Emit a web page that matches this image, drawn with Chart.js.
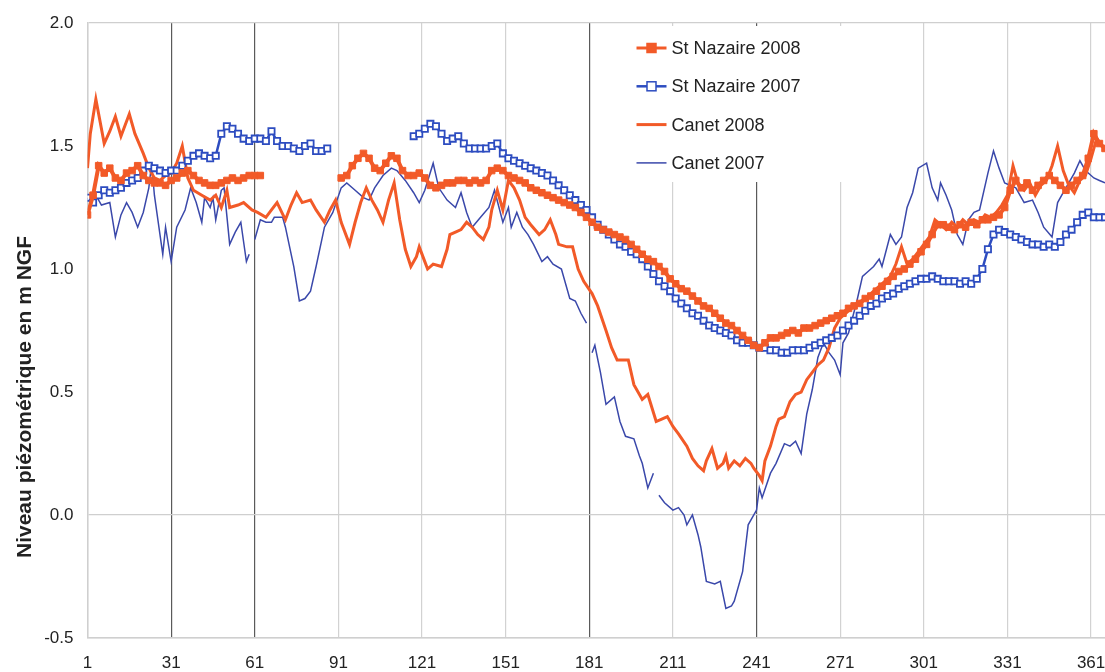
<!DOCTYPE html>
<html>
<head>
<meta charset="utf-8">
<title>Niveau piézométrique</title>
<script src="https://cdn.jsdelivr.net/npm/chart.js@4/dist/chart.umd.min.js"></script>
<style>
  html, body { margin: 0; padding: 0; background: #fff; overflow: hidden; }
  #wrap { width: 1105px; height: 672px; position: relative; }
  canvas { display: block; }
</style>
</head>
<body>
<div id="wrap"><canvas id="myChart"></canvas></div>
<script>
// x axis: day of the year
var tickDays = [1, 31, 61, 91, 121, 151, 181, 211, 241, 271, 301, 331, 361];
var tickLabels = ['1', '31', '61', '91', '121', '151', '181', '211', '241', '271', '301', '331', '361'];
var darkGridDays = [31, 61, 181, 241];

// St Nazaire 2008 (null = no record)
var nazaire2008Days = [1, 3, 5, 7, 9, 11, 13, 15, 17, 19, 21, 23, 25, 27, 29, 31, 33, 35, 37, 39, 41, 43, 45, 47, 49, 51, 53, 55, 57, 59, 61, 63, 64,
  92, 94, 96, 98, 100, 102, 104, 106, 108, 110, 112, 114, 116, 118, 120, 122, 124, 126, 128, 130, 132, 134, 136, 138, 140, 142, 144, 146, 148, 150,
  152, 154, 156, 158, 160, 162, 164, 166, 168, 170, 172, 174, 176, 178, 180, 182, 184, 186, 188, 190, 192, 194, 196, 198, 200, 202, 204, 206, 208, 210,
  212, 214, 216, 218, 220, 222, 224, 226, 228, 230, 232, 234, 236, 238, 240, 242, 244, 246, 248, 250, 252, 254, 256, 258, 260, 262, 264, 266, 268, 270,
  272, 274, 276, 278, 280, 282, 284, 286, 288, 290, 292, 294, 296, 298, 300, 302, 304, 306, 308, 310, 312, 314, 316, 318, 320, 322, 324, 326, 328, 330,
  332, 334, 336, 338, 340, 342, 344, 346, 348, 350, 352, 354, 356, 358, 360, 362, 364, 366];
var nazaire2008Levels = [1.22, 1.30, 1.42, 1.39, 1.41, 1.37, 1.36, 1.39, 1.40, 1.42, 1.38, 1.36, 1.35, 1.35, 1.34, 1.36, 1.37, 1.39, 1.40, 1.38, 1.36, 1.35, 1.34, 1.34, 1.35, 1.36, 1.37, 1.36, 1.37, 1.38, 1.38, 1.38, null,
  1.37, 1.38, 1.42, 1.45, 1.47, 1.45, 1.41, 1.40, 1.43, 1.46, 1.45, 1.40, 1.38, 1.38, 1.39, 1.37, 1.34, 1.33, 1.34, 1.35, 1.35, 1.36, 1.36, 1.35, 1.36, 1.35, 1.36, 1.40, 1.41, 1.40,
  1.38, 1.37, 1.36, 1.35, 1.33, 1.32, 1.31, 1.30, 1.29, 1.28, 1.27, 1.26, 1.25, 1.23, 1.21, 1.19, 1.17, 1.16, 1.15, 1.14, 1.13, 1.12, 1.10, 1.08, 1.06, 1.04, 1.03, 1.01, 0.99, 0.96,
  0.94, 0.92, 0.91, 0.89, 0.87, 0.85, 0.84, 0.82, 0.80, 0.78, 0.77, 0.75, 0.73, 0.71, 0.69, 0.68, 0.70, 0.72, 0.72, 0.73, 0.74, 0.75, 0.74, 0.76, 0.76, 0.77, 0.78, 0.79, 0.80, 0.81,
  0.82, 0.84, 0.85, 0.86, 0.88, 0.89, 0.91, 0.93, 0.95, 0.97, 0.99, 1.00, 1.02, 1.04, 1.07, 1.10, 1.14, 1.18, 1.18, 1.17, 1.16, 1.18, 1.17, 1.19, 1.18, 1.20, 1.20, 1.21, 1.22, 1.25,
  1.32, 1.36, 1.33, 1.35, 1.32, 1.34, 1.36, 1.38, 1.36, 1.34, 1.32, 1.34, 1.36, 1.38, 1.45, 1.55, 1.51, 1.49];

// St Nazaire 2007
var nazaire2007Days = [1, 3, 5, 7, 9, 11, 13, 15, 17, 19, 21, 23, 25, 27, 29, 31, 33, 35, 37, 39, 41, 43, 45, 47, 49, 51, 53, 55, 57, 59, 61, 63, 65, 67, 69, 71, 73, 75, 77, 79, 81, 83, 85, 87, 88,
  118, 120, 122, 124, 126, 128, 130, 132, 134, 136, 138, 140, 142, 144, 146, 148, 150,
  152, 154, 156, 158, 160, 162, 164, 166, 168, 170, 172, 174, 176, 178, 180, 182, 184, 186, 188, 190, 192, 194, 196, 198, 200, 202, 204, 206, 208, 210,
  212, 214, 216, 218, 220, 222, 224, 226, 228, 230, 232, 234, 236, 238, 240, 242, 244, 246, 248, 250, 252, 254, 256, 258, 260, 262, 264, 266, 268, 270,
  272, 274, 276, 278, 280, 282, 284, 286, 288, 290, 292, 294, 296, 298, 300, 302, 304, 306, 308, 310, 312, 314, 316, 318, 320, 322, 324, 326, 328, 330,
  332, 334, 336, 338, 340, 342, 344, 346, 348, 350, 352, 354, 356, 358, 360, 362, 364, 366];
var nazaire2007Levels = [1.29, 1.27, 1.30, 1.32, 1.31, 1.32, 1.33, 1.35, 1.36, 1.37, 1.40, 1.42, 1.41, 1.40, 1.39, 1.40, 1.40, 1.42, 1.44, 1.46, 1.47, 1.46, 1.45, 1.46, 1.55, 1.58, 1.57, 1.55, 1.53, 1.52, 1.53, 1.53, 1.52, 1.56, 1.52, 1.50, 1.50, 1.49, 1.48, 1.50, 1.51, 1.48, 1.48, 1.49, null,
  1.54, 1.55, 1.57, 1.59, 1.58, 1.55, 1.52, 1.53, 1.54, 1.51, 1.49, 1.49, 1.49, 1.49, 1.50, 1.51, 1.47,
  1.45, 1.44, 1.43, 1.42, 1.41, 1.40, 1.39, 1.38, 1.36, 1.34, 1.32, 1.30, 1.28, 1.26, 1.24, 1.21, 1.18, 1.16, 1.14, 1.12, 1.10, 1.09, 1.07, 1.06, 1.04, 1.01, 0.98, 0.95, 0.93, 0.91,
  0.88, 0.86, 0.84, 0.82, 0.81, 0.79, 0.77, 0.76, 0.75, 0.74, 0.73, 0.71, 0.70, 0.70, 0.69, 0.68, 0.68, 0.67, 0.67, 0.66, 0.66, 0.67, 0.67, 0.67, 0.68, 0.69, 0.70, 0.71, 0.72, 0.73,
  0.75, 0.77, 0.79, 0.81, 0.83, 0.85, 0.86, 0.88, 0.89, 0.90, 0.92, 0.93, 0.94, 0.95, 0.96, 0.96, 0.97, 0.96, 0.95, 0.95, 0.95, 0.94, 0.95, 0.94, 0.96, 1.00, 1.08, 1.14, 1.16, 1.15,
  1.14, 1.13, 1.12, 1.11, 1.10, 1.10, 1.09, 1.10, 1.09, 1.11, 1.14, 1.16, 1.19, 1.22, 1.23, 1.21, 1.21, 1.21];

// Canet 2008
var canet2008Days = [1, 2, 4, 7, 9, 11, 13, 16, 18, 21, 23, 25, 27, 29, 31, 33, 35, 37, 39, 42, 45, 47, 49, 51, 52, 55, 57, 60, 62, 65, 67, 69, 72, 74, 76, 78, 81, 83, 86, 88, 90,
  92, 95, 97, 99, 101, 103, 105, 107, 109, 111, 113, 115, 117, 119, 120, 122, 123, 125, 128, 130, 131, 133, 135, 137, 139, 141, 143, 145, 146, 148, 150,
  152, 154, 156, 158, 160, 163, 165, 167, 169, 170, 173, 175, 177, 179, 182, 184, 187, 189, 191, 193, 195, 197, 200, 202, 205, 207, 209, 211, 213, 216, 218,
  220, 222, 223, 225, 227, 229, 230, 231, 233, 235, 237, 239, 240, 242, 243, 244, 246, 248, 249, 251, 253, 255, 257, 259, 261, 263, 265, 267, 269, 271,
  274, 277, 280, 283, 286, 289, 291, 293, 295, 297, 299, 301, 303, 305, 307, 309, 311, 313, 315, 317, 319, 321, 323, 325, 327, 329, 331, 333, 335, 337,
  339, 341, 343, 345, 347, 349, 351, 353, 355, 357, 359, 361, 363, 365];
var canet2008Levels = [1.41, 1.55, 1.69, 1.51, 1.56, 1.62, 1.54, 1.63, 1.55, 1.47, 1.41, 1.37, 1.36, 1.38, 1.39, 1.43, 1.50, 1.37, 1.32, 1.30, 1.28, 1.30, 1.25, 1.32, 1.25, 1.26, 1.27, 1.24, 1.23, 1.21, 1.24, 1.27, 1.20, 1.26, 1.31, 1.27, 1.28, 1.24, 1.19, 1.24, 1.28,
  1.19, 1.10, 1.19, 1.27, 1.33, 1.28, 1.24, 1.19, 1.28, 1.35, 1.20, 1.08, 1.01, 1.05, 1.09, 1.03, 1.00, 1.02, 1.01, 1.08, 1.14, 1.15, 1.16, 1.19, 1.17, 1.14, 1.12, 1.17, 1.24, 1.32, 1.24,
  1.36, 1.33, 1.28, 1.21, 1.18, 1.14, 1.16, 1.20, 1.14, 1.10, 1.09, 1.09, 1.00, 0.95, 0.90, 0.85, 0.75, 0.68, 0.63, 0.63, 0.63, 0.53, 0.47, 0.49, 0.38, 0.39, 0.40, 0.36, 0.33, 0.28, 0.23,
  0.20, 0.18, 0.22, 0.27, 0.19, 0.21, 0.24, 0.19, 0.22, 0.20, 0.23, 0.21, 0.19, 0.16, 0.14, 0.22, 0.28, 0.36, 0.39, 0.40, 0.46, 0.49, 0.50, 0.55, 0.58, 0.61, 0.63, 0.68, 0.76, 0.80,
  0.83, 0.86, 0.88, 0.91, 0.94, 0.97, 1.02, 1.09, 1.02, 1.04, 1.07, 1.10, 1.13, 1.20, 1.18, 1.16, 1.19, 1.17, 1.20, 1.18, 1.20, 1.19, 1.22, 1.21, 1.23, 1.26, 1.30, 1.42, 1.34, 1.32,
  1.35, 1.30, 1.34, 1.36, 1.42, 1.50, 1.40, 1.34, 1.31, 1.36, 1.38, 1.45, 1.53, 1.50];

// Canet 2007 (null = no record)
var canet2007Days = [1, 4, 6, 9, 11, 13, 15, 17, 19, 21, 23, 24, 25, 27, 28, 29, 31, 33, 36, 38, 40, 42, 43, 45, 46, 47, 49, 50, 52, 54, 56, 58, 59, 60,
  61, 63, 65, 67, 68, 71, 72, 75, 77, 79, 81, 83, 86, 89, 92, 94, 97, 100, 102, 104, 107, 110, 112, 115, 118, 120, 122, 125, 127, 130, 133, 135, 137, 139,
  142, 145, 147, 150, 152, 153, 155, 157, 159, 161, 164, 166, 168, 171, 174, 176, 178, 180, 181, 182, 183, 185, 187, 190, 192, 194, 197, 199, 200, 202, 204, 205,
  206, 208, 211, 213, 215, 216, 218, 220, 221, 223, 226, 228, 230, 232, 233, 236, 238, 241, 242, 243, 246, 248, 251, 253, 255, 257, 259, 261, 263, 265, 267,
  269, 271, 272, 274, 277, 279, 281, 283, 285, 286, 289, 291, 293, 295, 297, 299, 302, 304, 306, 307, 309, 311, 313, 315, 317, 319, 321, 324, 326, 328, 330,
  332, 334, 337, 340, 342, 344, 347, 349, 351, 353, 355, 357, 359, 362, 364, 366];
var canet2007Levels = [1.30, 1.30, 1.26, 1.27, 1.13, 1.22, 1.27, 1.23, 1.17, 1.23, 1.33, 1.43, 1.30, 1.14, 1.06, 1.17, 1.03, 1.17, 1.24, 1.33, 1.27, 1.19, 1.29, 1.25, 1.29, 1.20, 1.32, 1.33, 1.10, 1.15, 1.19, 1.03, 1.06, null,
  1.12, 1.20, 1.19, 1.19, 1.21, 1.21, 1.17, 1.01, 0.87, 0.88, 0.91, 1.01, 1.17, 1.23, 1.33, 1.35, 1.32, 1.29, 1.28, 1.33, 1.38, 1.41, 1.40, 1.36, 1.31, 1.27, 1.32, 1.43, 1.33, 1.28, 1.25, 1.31, 1.23, 1.17,
  1.21, 1.25, 1.32, 1.19, 1.25, 1.17, 1.23, 1.17, 1.14, 1.10, 1.03, 1.05, 1.02, 1.00, 0.88, 0.87, 0.82, 0.78, null, 0.66, 0.69, 0.58, 0.45, 0.48, 0.38, 0.32, 0.31, 0.24, 0.21, 0.11, 0.17, null,
  0.08, 0.05, 0.02, 0.03, 0.00, -0.04, 0.00, -0.08, -0.13, -0.27, -0.28, -0.27, -0.38, -0.37, -0.35, -0.23, -0.04, 0.02, 0.11, 0.07, 0.17, 0.21, 0.29, 0.28, 0.30, 0.25, 0.41, 0.51, 0.64, 0.70, 0.66,
  0.63, 0.57, 0.70, 0.74, 0.87, 0.97, 0.99, 1.01, 1.04, 1.01, 1.14, 1.10, 1.13, 1.25, 1.31, 1.41, 1.43, 1.33, 1.28, 1.35, 1.30, 1.24, 1.14, 1.10, 1.20, 1.23, 1.24, 1.39, 1.48, 1.41, 1.35,
  1.34, 1.33, 1.27, 1.28, 1.23, 1.17, 1.13, 1.27, 1.31, 1.35, 1.39, 1.44, 1.40, 1.37, 1.36, 1.35];

var orange = '#f25a28';
var blue = '#2d4cc0';
var darkBlue = '#3a48aa';
var fontFamily = '"Liberation Sans", Arial, Helvetica, sans-serif';

function toPoints(days, levels) {
    return days.map(function(d, i) {
        return { x: d, y: levels[i] };
    });
}

// white legend box with line + marker samples, drawn over the grid
var boxLegend = {
    id: 'boxLegend',
    beforeDatasetsDraw: function(chart) {
        var ctx = chart.ctx;
        var area = chart.chartArea;
        var left = area.left + 524;
        var top = area.top + 3;
        ctx.save();
        ctx.fillStyle = '#ffffff';
        ctx.fillRect(left, top, 246, 156);
        ctx.font = '18px ' + fontFamily;
        ctx.textBaseline = 'middle';
        chart.data.datasets.forEach(function(ds, i) {
            var y = top + 22 + i * 38.3;
            var x0 = left + 25;
            var x1 = left + 55;
            ctx.strokeStyle = ds.borderColor;
            ctx.lineWidth = Math.min(ds.borderWidth, 3);
            ctx.beginPath();
            ctx.moveTo(x0, y);
            ctx.lineTo(x1, y);
            ctx.stroke();
            if (ds.pointRadius > 0) {
                var s = 4.5;
                ctx.fillStyle = ds.pointBackgroundColor;
                ctx.strokeStyle = ds.pointBorderColor;
                ctx.lineWidth = 1.5;
                ctx.fillRect((x0 + x1) / 2 - s, y - s, 2 * s, 2 * s);
                ctx.strokeRect((x0 + x1) / 2 - s, y - s, 2 * s, 2 * s);
            }
            ctx.fillStyle = '#222';
            ctx.fillText(ds.label, x1 + 5, y + 1);
        });
        ctx.restore();
    }
};

// rotated y axis title
var yTitle = {
    id: 'yTitle',
    afterDraw: function(chart) {
        var ctx = chart.ctx;
        ctx.save();
        ctx.translate(25, 397);
        ctx.rotate(-Math.PI / 2);
        ctx.font = 'bold 21px ' + fontFamily;
        ctx.fillStyle = '#222';
        ctx.textAlign = 'center';
        ctx.textBaseline = 'middle';
        ctx.fillText('Niveau piézométrique en m NGF', 0, 0);
        ctx.restore();
    }
};

var ctx = document.getElementById('myChart').getContext('2d');
var myChart = new Chart(ctx, {
    type: 'line',
    data: {
        datasets: [{
            label: 'St Nazaire 2008',
            data: toPoints(nazaire2008Days, nazaire2008Levels),
            borderColor: orange,
            borderWidth: 4,
            pointStyle: 'rect',
            pointRadius: 4.6,
            pointBackgroundColor: orange,
            pointBorderColor: orange,
            pointBorderWidth: 1
        }, {
            label: 'St Nazaire 2007',
            data: toPoints(nazaire2007Days, nazaire2007Levels),
            borderColor: blue,
            borderWidth: 2.5,
            pointStyle: 'rect',
            pointRadius: 4.4,
            pointBackgroundColor: '#ffffff',
            pointBorderColor: blue,
            pointBorderWidth: 1.8
        }, {
            label: 'Canet 2008',
            data: toPoints(canet2008Days, canet2008Levels),
            borderColor: orange,
            borderWidth: 3,
            pointRadius: 0
        }, {
            label: 'Canet 2007',
            data: toPoints(canet2007Days, canet2007Levels),
            borderColor: darkBlue,
            borderWidth: 1.5,
            pointRadius: 0
        }]
    },
    options: {
        responsive: true,
        maintainAspectRatio: false,
        animation: false,
        spanGaps: false,
        layout: { autoPadding: false, padding: { top: 23, right: 0, left: 0, bottom: 0 } },
        plugins: {
            legend: { display: false },
            tooltip: { enabled: false }
        },
        elements: { line: { tension: 0 } },
        scales: {
            x: {
                type: 'linear',
                min: 1,
                max: 366,
                afterBuildTicks: function(scale) {
                    scale.ticks = tickDays.map(function(d) { return { value: d }; });
                },
                afterFit: function(scale) {
                    scale.height = 34;
                    scale.paddingLeft = 0;
                    scale.paddingRight = 0;
                },
                ticks: {
                    autoSkip: false,
                    maxRotation: 0,
                    padding: 15,
                    color: '#222',
                    font: { family: fontFamily, size: 17 },
                    callback: function(value) {
                        var i = tickDays.indexOf(value);
                        return i >= 0 ? tickLabels[i] : '';
                    }
                },
                grid: {
                    drawTicks: false,
                    lineWidth: 1.2,
                    color: function(c) {
                        if (c.tick && darkGridDays.indexOf(c.tick.value) >= 0) return '#5a5a5a';
                        return '#d2d2d2';
                    }
                },
                border: { display: true, color: '#cfcfcf', width: 1.5 }
            },
            y: {
                min: -0.5,
                max: 2.0,
                afterFit: function(scale) {
                    scale.width = 87.5;
                    scale.paddingTop = 0;
                    scale.paddingBottom = 0;
                },
                ticks: {
                    stepSize: 0.5,
                    padding: 14,
                    color: '#222',
                    font: { family: fontFamily, size: 17 },
                    callback: function(value) { return value.toFixed(1); }
                },
                grid: {
                    drawTicks: false,
                    lineWidth: 1.2,
                    color: function(c) {
                        var v = c.tick ? c.tick.value : null;
                        if (v === 0 || v === 2 || v === -0.5) return '#cfcfcf';
                        return 'rgba(0,0,0,0)';
                    }
                },
                border: { display: true, color: '#cfcfcf', width: 1.5 }
            }
        }
    },
    plugins: [boxLegend, yTitle]
});
</script>
</body>
</html>
